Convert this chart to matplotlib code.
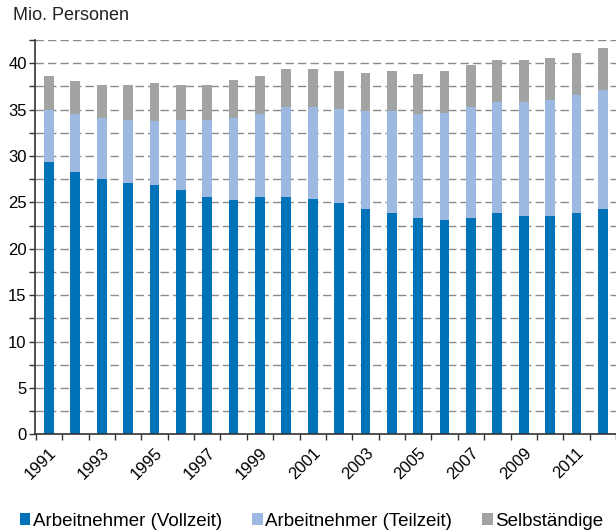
import numpy as np
import matplotlib
matplotlib.use('Agg')
import matplotlib.pyplot as plt
import matplotlib.ticker as ticker

plt.rcParams['font.family'] = ['Liberation Sans', 'DejaVu Sans']

jahre = list(range(1991, 2013))
vollzeit = [29.3, 28.3, 27.5, 27.1, 26.9, 26.3, 25.6, 25.3, 25.6, 25.6, 25.4,
            24.9, 24.3, 23.8, 23.3, 23.1, 23.3, 23.9, 23.5, 23.5, 23.9, 24.3]
summe_teilzeit = [35.0, 34.5, 34.1, 33.9, 33.8, 33.9, 33.9, 34.1, 34.5, 35.3, 35.3,
                  35.1, 34.8, 34.8, 34.5, 34.6, 35.3, 35.8, 35.8, 36.0, 36.6, 37.1]
summe_gesamt = [38.6, 38.1, 37.6, 37.6, 37.9, 37.6, 37.6, 38.2, 38.6, 39.4, 39.4,
                39.2, 38.9, 39.2, 38.8, 39.2, 39.8, 40.3, 40.3, 40.6, 41.1, 41.6]
teilzeit = np.array(summe_teilzeit) - np.array(vollzeit)
selbst = np.array(summe_gesamt) - np.array(summe_teilzeit)

farben = ['#0072B8', '#9DB9E2', '#A2A3A3']
labels = ['Arbeitnehmer (Vollzeit)', 'Arbeitnehmer (Teilzeit)', 'Selbständige']

fig = plt.figure(figsize=(6.16, 5.30), dpi=100)
ax = fig.add_axes([35/616, 95.7/530, 1 - 35/616, 394.3/530])

x = np.arange(len(jahre))
b1 = ax.bar(x, vollzeit, width=0.37, color=farben[0], label=labels[0], zorder=3)
b2 = ax.bar(x, teilzeit, width=0.37, bottom=vollzeit, color=farben[1], label=labels[1], zorder=3)
b3 = ax.bar(x, selbst, width=0.37, bottom=summe_teilzeit, color=farben[2], label=labels[2], zorder=3)

ax.set_xlim(-0.53, 21.34)
ax.set_ylim(0, 42.5)

# y-Achse
ax.yaxis.set_major_locator(ticker.MultipleLocator(5))
ax.yaxis.set_minor_locator(ticker.MultipleLocator(2.5))
ax.grid(axis='y', which='both', color='#8a8a8a', linestyle=(0, (6, 3)), linewidth=1.0, zorder=0)
ax.tick_params(axis='y', which='both', length=4, width=1, direction='out', labelsize=12, pad=2, color='#333333')

# x-Achse: Striche zwischen den Balken, Beschriftung jedes zweite Jahr
ax.set_xticks(x[::2])
ax.set_xticklabels([str(j) for j in jahre[::2]], rotation=45, ha='right', rotation_mode='anchor')
ax.set_xticks(np.arange(-0.5, len(jahre) + 0.5, 1), minor=True)
ax.tick_params(axis='x', which='major', length=0, labelsize=12, pad=8)
ax.tick_params(axis='x', which='minor', length=4, width=1, direction='out', color='#333333')

for s in ['top', 'right']:
    ax.spines[s].set_visible(False)
for s in ['left', 'bottom']:
    ax.spines[s].set_color('#333333')
    ax.spines[s].set_linewidth(1.2)
    ax.spines[s].set_zorder(4)

fig.text(13/616, 1 - 16/530, 'Mio. Personen', fontsize=13, va='center', ha='left', color='#222222')

leg = fig.legend(handles=[b1, b2, b3], labels=labels, loc='center left',
                 bbox_to_anchor=(20/616, 1 - 521/530), ncol=3, frameon=False,
                 fontsize=13.5, handlelength=0.55, handleheight=0.55, handletextpad=0.15,
                 columnspacing=1.6, borderaxespad=0, borderpad=0)

fig.savefig('out.png', dpi=100)
